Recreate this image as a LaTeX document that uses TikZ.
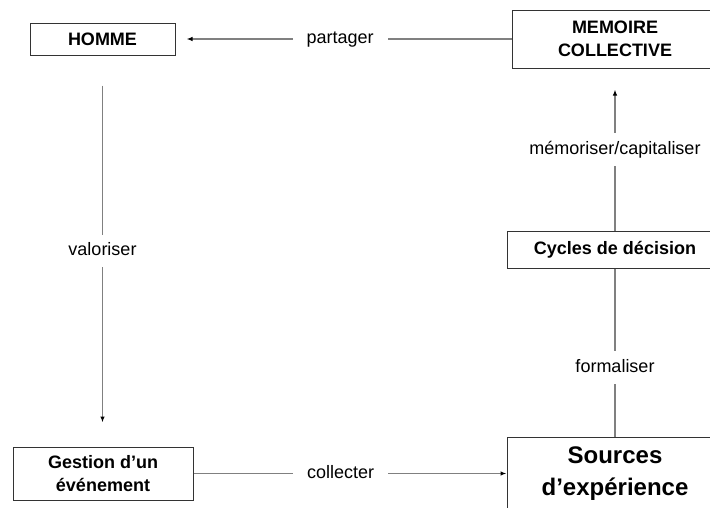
\documentclass[tikz,border=0pt]{standalone}
\usepackage{fontspec}
\setmainfont{Liberation Sans}
\usetikzlibrary{arrows.meta}

\tikzset{
  box/.style={draw=black!80, line width=1pt, align=center, inner sep=0pt,
    font=\fontsize{18}{23}\selectfont\bfseries},
  link/.style={draw=black!50, line width=1.4pt},
  tip/.style={-{Latex[length=6pt,width=4.5pt,color=black]}},
  lbl/.style={fill=white, font=\fontsize{18}{22}\selectfont, text height=13pt, text depth=3.7pt,
    inner xsep=14pt, inner ysep=8pt},
}

\begin{document}
\begin{tikzpicture}[x=1pt, y=-1pt]
  % Fix the frame of the page
  \useasboundingbox (0,0) rectangle (710,507);
  \clip (0,0) rectangle (710,507);

  % Boxes
  \node[box, minimum width=145pt, minimum height=32pt] (homme) at (102.5,39) {HOMME};
  \node[box, minimum width=206pt, minimum height=58pt] (mem) at (615,39) {MEMOIRE\\COLLECTIVE};
  \node[box, minimum width=216pt, minimum height=37pt] (cyc) at (615,249.5) {Cycles de décision};
  \node[box, minimum width=180pt, minimum height=53pt] (gest) at (103,473.5) {Gestion d’un\\événement};
  \node[box, minimum width=216pt, minimum height=100pt,
    font=\fontsize{24}{32}\selectfont\bfseries] (src) at (615,487) {Sources\\d’expérience\\\mbox{}};

  % Connectors with their labels
  \draw[link, tip, shorten >=11pt] (mem.west) -- node[lbl, pos=0.51]{partager} (homme.east);
  \draw[link, tip, shorten <=30pt, shorten >=24pt] (homme.south) -- node[lbl]{valoriser} (homme.south |- gest.north);
  \draw[link, tip] (gest.east) -- node[lbl, pos=0.47]{collecter} (gest.east -| src.west);
  \draw[link] (cyc.south) -- node[lbl, pos=0.59]{formaliser} (src.north);
  \draw[link, tip, shorten >=21pt] (cyc.north) -- node[lbl]{mémoriser/capitaliser} (mem.south);
\end{tikzpicture}
\end{document}
